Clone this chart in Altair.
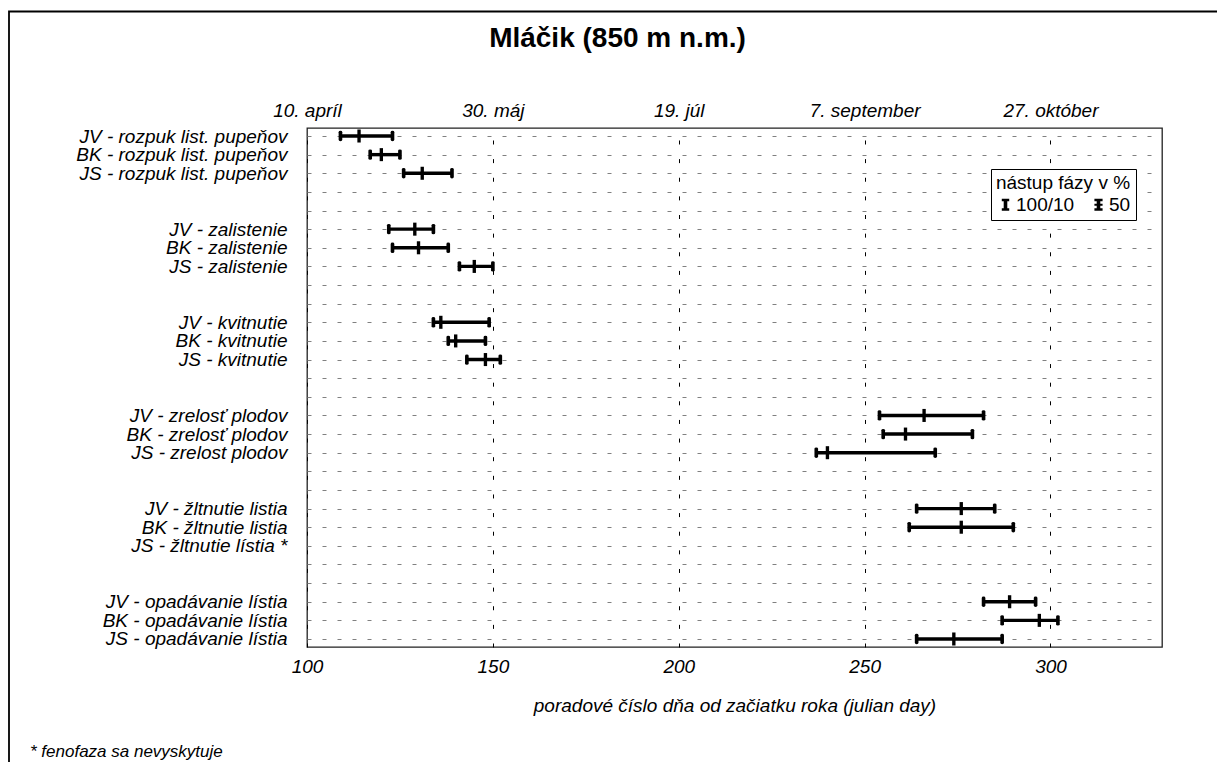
import json
import altair as alt
import pandas as pd

FONT = "Liberation Sans"

TITLE = "Mláčik (850 m n.m.)"
ROW_LABELS = [
    "JV - rozpuk list. pupeňov",
    "BK - rozpuk list. pupeňov\u00a0",
    "JS - rozpuk list. pupeňov",
    "", "",
    "JV - zalistenie\u00a0",
    "BK - zalistenie",
    "JS - zalistenie",
    "", "",
    "JV - kvitnutie",
    "BK - kvitnutie",
    "JS - kvitnutie",
    "", "",
    "JV - zrelosť plodov\u00a0",
    "BK - zrelosť plodov",
    "JS - zrelost plodov",
    "", "",
    "JV - žltnutie listia",
    "BK - žltnutie listia",
    "JS - žltnutie lístia *",
    "", "",
    "JV - opadávanie lístia",
    "BK - opadávanie lístia",
    "JS - opadávanie lístia",
]
ROW_INDEX = [0, 1, 2, 5, 6, 7, 10, 11, 12, 15, 16, 17, 20, 21, 25, 26, 27]
START = [109, 117, 126, 122, 123, 141, 134, 138, 143, 254, 255, 237, 264, 262, 282, 287, 264]
MID = [114, 120, 131, 129, 130, 145, 136, 140, 148, 266, 261, 240, 276, 276, 289, 297, 274]
END = [123, 125, 139, 134, 138, 150, 149, 148, 152, 282, 279, 269, 285, 290, 296, 302, 287]

TICK_VALUES = [100, 150, 200, 250, 300]
DATE_LABELS = ["10. apríl", "30. máj", "19. júl", "7. september", "27. október"]
X_TITLE = "poradové číslo dňa od začiatku roka (julian day)"
LEGEND_TITLE = "\u00a0nástup fázy v %\u00a0"
KINDS = ["100/10", "50"]
FOOTNOTE = "* fenofaza sa nevyskytuje"

# marker shapes (unit coordinates)
END_PATH = "M-0.26,-0.55Q-0.26,-0.74 0,-0.74Q0.26,-0.74 0.26,-0.55L0.26,0.55Q0.26,0.74 0,0.74Q-0.26,0.74 -0.26,0.55Z"
MID_PATH = "M-0.24,-0.93L0.24,-0.93L0.24,0.93L-0.24,0.93Z"
LEG_END = "M-0.62,-1H0.62V-0.58H0.3V0.58H0.62V1H-0.62V0.58H-0.3V-0.58H-0.62Z"
LEG_MID = ("M-0.68,-1H0.68V-0.6H0.3V-0.18H0.68V0.18H0.3V0.6H0.68V1H-0.68V0.6H-0.3"
           "V0.18H-0.68V-0.18H-0.3V-0.6H-0.68Z")

bars = pd.DataFrame({"row": ROW_INDEX, "start": START, "mid": MID, "end": END})
ends = pd.concat([
    pd.DataFrame({"row": ROW_INDEX, "day": START}),
    pd.DataFrame({"row": ROW_INDEX, "day": END}),
], ignore_index=True)
legend_df = pd.DataFrame({"kind": KINDS})

y_label_expr = "[" + ",".join(json.dumps(l) for l in ROW_LABELS) + "][round(datum.value)]"
date_map = "{" + ",".join(f"'{v}': {json.dumps(l)}" for v, l in zip(TICK_VALUES, DATE_LABELS)) + "}"
top_label_expr = date_map + "[datum.value]"

x_scale = alt.Scale(domain=[100, 330], nice=False, zero=False)
y_scale = alt.Scale(domain=[-0.43, 27.43], reverse=True, nice=False, zero=False)

y_axis = alt.Axis(
    values=list(range(len(ROW_LABELS))), labelExpr=y_label_expr, title=None,
    ticks=False, tickSize=0, domain=False, grid=True, gridColor="#808080",
    gridDash=[4, 11], gridWidth=1, labelFont=FONT, labelFontStyle="italic",
    labelFontSize=19, labelColor="black", labelPadding=20, labelLimit=400,
    labelOverlap=False,
)
y_enc = alt.Y("row:Q", scale=y_scale, axis=y_axis)

bottom_axis = alt.Axis(
    values=TICK_VALUES, format="d", title=X_TITLE, titleFont=FONT,
    titleFontSize=19, titleFontStyle="italic", titleFontWeight="normal",
    titleColor="black", titlePadding=20, labelFont=FONT, labelFontStyle="italic",
    labelFontSize=19, labelColor="black", labelPadding=10, ticks=False, tickSize=0,
    domain=False, grid=True, gridColor="black", gridDash=[4, 14.63], gridWidth=1,
    labelFlush=False, labelOverlap=False,
)
top_axis = alt.Axis(
    orient="top", values=TICK_VALUES, labelExpr=top_label_expr, title=None,
    labelFont=FONT, labelFontStyle="italic", labelFontSize=19, labelColor="black",
    labelPadding=8, ticks=False, tickSize=0, domain=False, grid=False,
    labelFlush=False, labelOverlap=False,
)

rules = alt.Chart(bars).mark_rule(color="black", strokeWidth=3.4).encode(
    x=alt.X("start:Q", scale=x_scale, axis=bottom_axis),
    x2="end:Q",
    y=y_enc,
)

end_marks = alt.Chart(ends).mark_point(
    filled=True, size=196, color="black", opacity=1, strokeWidth=0, shape=END_PATH
).encode(
    x=alt.X("day:Q", scale=x_scale, axis=top_axis),
    y=y_enc,
)

mid_marks = alt.Chart(bars).mark_point(
    filled=True, size=196, color="black", opacity=1, strokeWidth=0, shape=MID_PATH
).encode(
    x=alt.X("mid:Q", scale=x_scale, axis=None),
    y=y_enc,
)

legend = alt.Legend(
    title=LEGEND_TITLE, orient="none", legendX=684, legendY=41,
    direction="horizontal", fillColor="white", strokeColor="black", padding=5,
    titleAnchor="middle", titleFont=FONT, titleFontSize=19, titleFontWeight="normal",
    titleColor="black", titlePadding=2, labelFont=FONT, labelFontSize=19,
    labelColor="black", symbolSize=144, labelOffset=1, columnPadding=14,
    symbolStrokeWidth=0, symbolFillColor="black",
)

# legend source: symbols placed outside the view and clipped away
legend_layer = alt.Chart(legend_df).mark_point(
    filled=True, size=144, color="black", opacity=1, strokeWidth=0, clip=True
).encode(
    x=alt.value(-200), y=alt.value(-200),
    shape=alt.Shape("kind:N", scale=alt.Scale(domain=KINDS, range=[LEG_END, LEG_MID]),
                    legend=legend),
)

frame = alt.Chart(pd.DataFrame({"a": [0]})).mark_rect(
    fill="transparent", stroke="black", strokeWidth=1.8
).encode(
    x=alt.value(-298), x2=alt.value(1400), y=alt.value(-116.5), y2=alt.value(900)
)

foot = alt.Chart(pd.DataFrame({"t": [FOOTNOTE]})).mark_text(
    align="left", baseline="alphabetic", font=FONT, fontSize=17,
    fontStyle="italic", color="black"
).encode(text="t:N", x=alt.value(30 - 307), y=alt.value(757 - 128))

chart = alt.layer(rules, end_marks, mid_marks, legend_layer, frame, foot).resolve_axis(
    x="independent"
).properties(
    width=855, height=519,
    autosize=alt.AutoSizeParams(type="none"),
    padding={"left": 307, "top": 128, "right": 55, "bottom": 115},
    title=alt.TitleParams(
        TITLE, font=FONT, fontSize=28, fontWeight="bold", color="black",
        anchor="middle", frame="group", dx=-117, dy=64, offset=0,
        baseline="alphabetic",
    ),
    background="white",
).configure_view(stroke="#222222", strokeWidth=1.3)

chart.save("out.html", embed_options={"renderer": "svg", "actions": False})
